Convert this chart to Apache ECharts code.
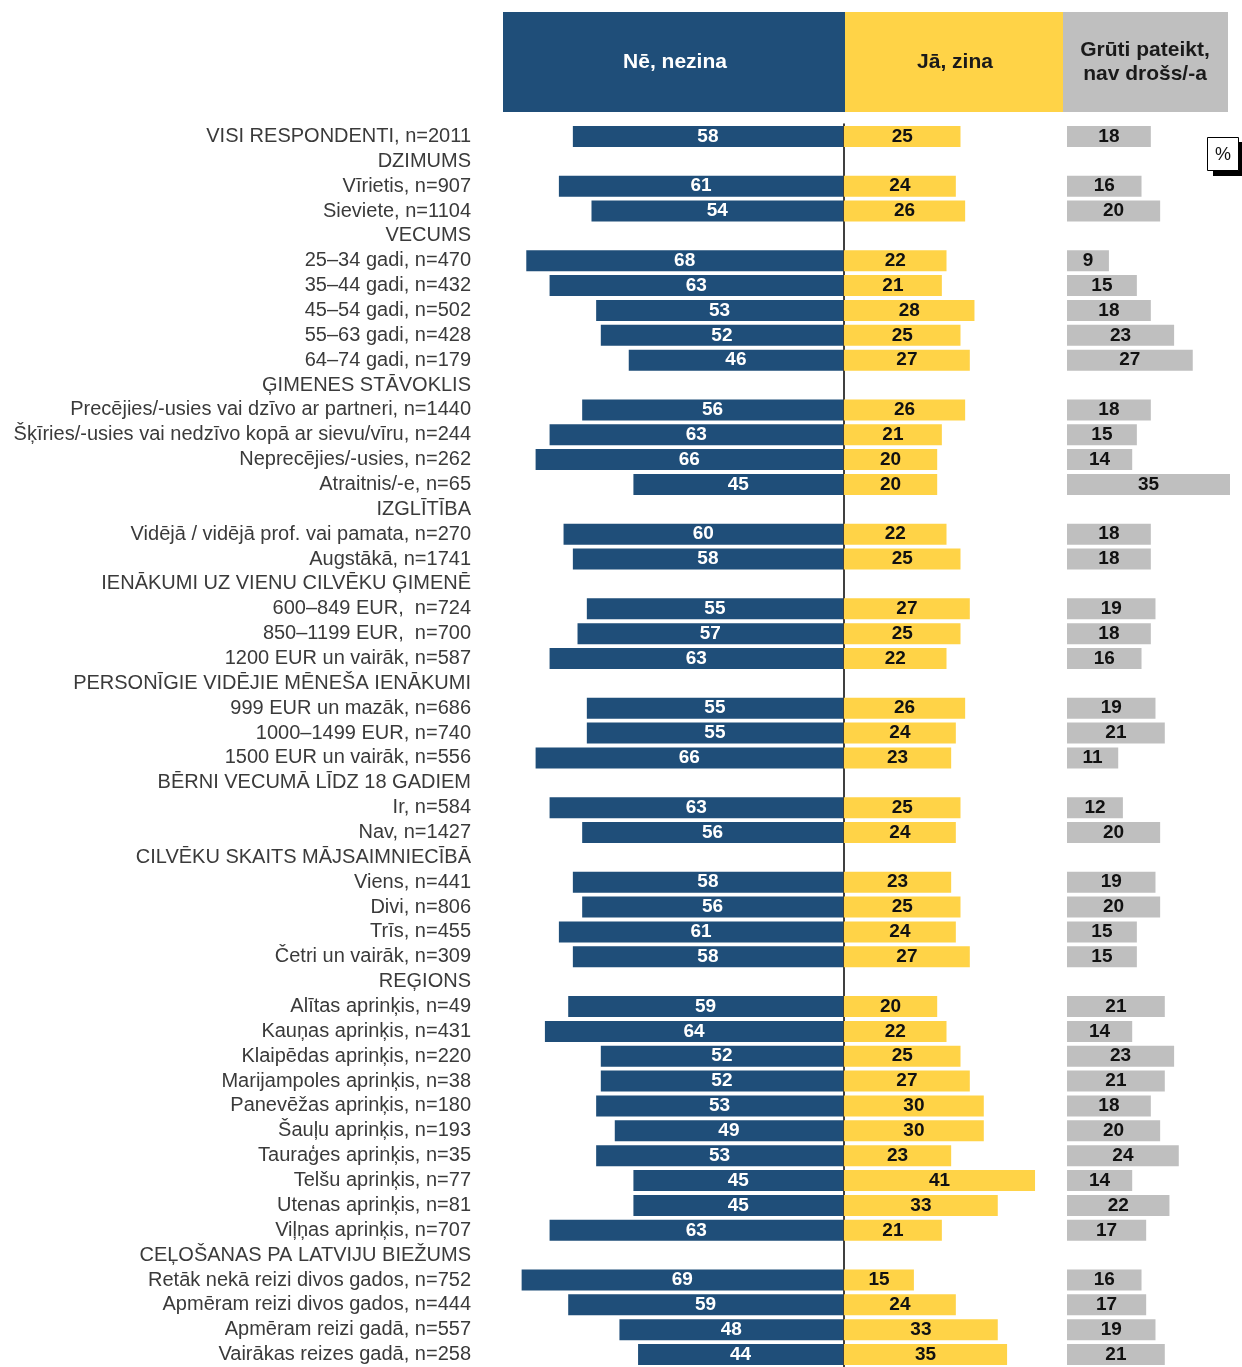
<!DOCTYPE html>
<html><head><meta charset="utf-8">
<script src="https://cdn.jsdelivr.net/npm/echarts@6/dist/echarts.min.js"></script>
<style>html,body{margin:0;padding:0;background:#fff}#c{width:1242px;height:1367px}</style>
</head><body><div id="c"></div>
<script>
const categories = [
  'VISI RESPONDENTI, n=2011',
  'DZIMUMS',
  'Vīrietis, n=907',
  'Sieviete, n=1104',
  'VECUMS',
  '25–34 gadi, n=470',
  '35–44 gadi, n=432',
  '45–54 gadi, n=502',
  '55–63 gadi, n=428',
  '64–74 gadi, n=179',
  'ĢIMENES STĀVOKLIS',
  'Precējies/-usies vai dzīvo ar partneri, n=1440',
  'Šķīries/-usies vai nedzīvo kopā ar sievu/vīru, n=244',
  'Neprecējies/-usies, n=262',
  'Atraitnis/-e, n=65',
  'IZGLĪTĪBA',
  'Vidējā / vidējā prof. vai pamata, n=270',
  'Augstākā, n=1741',
  'IENĀKUMI UZ VIENU CILVĒKU ĢIMENĒ',
  '600–849 EUR,  n=724',
  '850–1199 EUR,  n=700',
  '1200 EUR un vairāk, n=587',
  'PERSONĪGIE VIDĒJIE MĒNEŠA IENĀKUMI',
  '999 EUR un mazāk, n=686',
  '1000–1499 EUR, n=740',
  '1500 EUR un vairāk, n=556',
  'BĒRNI VECUMĀ LĪDZ 18 GADIEM',
  'Ir, n=584',
  'Nav, n=1427',
  'CILVĒKU SKAITS MĀJSAIMNIECĪBĀ',
  'Viens, n=441',
  'Divi, n=806',
  'Trīs, n=455',
  'Četri un vairāk, n=309',
  'REĢIONS',
  'Alītas aprinķis, n=49',
  'Kauņas aprinķis, n=431',
  'Klaipēdas aprinķis, n=220',
  'Marijampoles aprinķis, n=38',
  'Panevēžas aprinķis, n=180',
  'Šauļu aprinķis, n=193',
  'Tauraģes aprinķis, n=35',
  'Telšu aprinķis, n=77',
  'Utenas aprinķis, n=81',
  'Viļņas aprinķis, n=707',
  'CEĻOŠANAS PA LATVIJU BIEŽUMS',
  'Retāk nekā reizi divos gados, n=752',
  'Apmēram reizi divos gados, n=444',
  'Apmēram reizi gadā, n=557',
  'Vairākas reizes gadā, n=258'
];
const seriesNames = ['Nē, nezina', 'Jā, zina', 'Grūti pateikt,\nnav drošs/-a'];
const noKnow  = [58,null,61,54,null,68,63,53,52,46,null,56,63,66,45,null,60,58,null,55,57,63,null,55,55,66,null,63,56,null,58,56,61,58,null,59,64,52,52,53,49,53,45,45,63,null,69,59,48,44];
const yesKnow = [25,null,24,26,null,22,21,28,25,27,null,26,21,20,20,null,22,25,null,27,25,22,null,26,24,23,null,25,24,null,23,25,24,27,null,20,22,25,27,30,30,23,41,33,21,null,15,24,33,35];
const hardSay = [18,null,16,20,null,9,15,18,23,27,null,18,15,14,35,null,18,18,null,19,18,16,null,19,21,11,null,12,20,null,19,20,15,15,null,21,14,23,21,18,20,24,14,22,17,null,16,17,19,21];
const colors = ['#1F4E79', '#FFD347', '#BFBFBF'];

const FONT = '"Liberation Sans", Arial, sans-serif';
const gridTop = 124, gridH = 1257;
const grids = [
  {left: 503, width: 340, top: gridTop, height: gridH},
  {left: 844, width: 219, top: gridTop, height: gridH},
  {left: 1067, width: 163, top: gridTop, height: gridH}
];
const maxes = [73, 47, 35];
const values = [noKnow, yesKnow, hardSay];
const labelColors = ['#ffffff', '#111111', '#111111'];

const chart = echarts.init(document.getElementById('c'), null, {renderer: 'canvas'});
chart.setOption({
  animation: false,
  backgroundColor: '#ffffff',
  grid: grids,
  xAxis: grids.map((g, i) => ({
    type: 'value', gridIndex: i, min: 0, max: maxes[i], inverse: i === 0, show: false
  })),
  yAxis: grids.map((g, i) => ({
    type: 'category', gridIndex: i, data: categories, inverse: true,
    axisTick: {show: false},
    splitLine: {show: false},
    axisLine: i === 1 ? {show: true, onZero: false, lineStyle: {color: '#000', width: 1.5}} : {show: false, onZero: false},
    axisLabel: i === 0 ? {show: true, interval: 0, margin: 32, fontSize: 20, lineHeight: 22, color: '#3a3a3a', fontFamily: FONT} : {show: false}
  })),
  series: values.map((v, i) => ({
    type: 'bar', name: seriesNames[i], xAxisIndex: i, yAxisIndex: i, data: v,
    barWidth: 21,
    itemStyle: {color: colors[i]},
    label: {show: true, position: 'inside', color: labelColors[i], fontSize: 19, fontWeight: 'bold', fontFamily: FONT}
  })),
  graphic: [
    {type: 'rect', shape: {x: 503, y: 12, width: 342, height: 100}, style: {fill: colors[0]}},
    {type: 'rect', shape: {x: 845, y: 12, width: 218, height: 100}, style: {fill: colors[1]}},
    {type: 'rect', shape: {x: 1063, y: 12, width: 165, height: 100}, style: {fill: colors[2]}},
    {type: 'text', x: 675, y: 62, style: {text: seriesNames[0], fill: '#fff', font: 'bold 21px ' + FONT, textAlign: 'center', textVerticalAlign: 'middle'}},
    {type: 'text', x: 955, y: 62, style: {text: seriesNames[1], fill: '#1a1a1a', font: 'bold 21px ' + FONT, textAlign: 'center', textVerticalAlign: 'middle'}},
    {type: 'text', x: 1145, y: 62, style: {text: seriesNames[2], fill: '#1a1a1a', font: 'bold 21px ' + FONT, textAlign: 'center', textVerticalAlign: 'middle', lineHeight: 24}},
    {type: 'rect', shape: {x: 1213, y: 142, width: 30, height: 34}, style: {fill: '#000'}},
    {type: 'rect', shape: {x: 1207.5, y: 137.5, width: 31, height: 33}, style: {fill: '#fff', stroke: '#000', lineWidth: 1}},
    {type: 'text', x: 1223, y: 155, style: {text: '%', fill: '#111', font: '18px ' + FONT, textAlign: 'center', textVerticalAlign: 'middle'}}
  ]
});
</script>
</body></html>
